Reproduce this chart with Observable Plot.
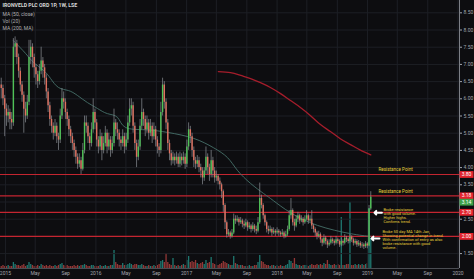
<!DOCTYPE html>
<html><head><meta charset="utf-8">
<script src="https://cdn.jsdelivr.net/npm/d3@7"></script>
<script src="https://cdn.jsdelivr.net/npm/@observablehq/plot@0.6"></script>
<style>
html,body{margin:0;padding:0;background:#0d0d10;overflow:hidden}
#wrap{position:relative;width:474px;height:279px;background:#0d0d10}
#wrap svg{position:absolute;left:0;top:0}
</style></head><body><div id="wrap"></div>
<script>
// ---- data (weekly) ----
const firstWeek = "2014-12-15";
const firstOpen = 6.4;
const closes = [6.3,6.0,5.7,5.5,5.6,5.4,5.3,7.5,7.6,7.2,
 6.8,6.4,6.1,5.7,5.5,5.9,7.2,7.5,7.2,6.9,
 6.7,6.5,6.8,7.1,6.9,6.6,6.2,5.8,5.4,5.2,
 5.0,5.2,4.9,4.8,5.5,6.0,5.9,5.6,5.4,5.1,
 4.9,4.7,4.5,4.3,4.1,4.2,3.95,4.5,5.3,5.2,
 4.9,4.7,5.1,5.6,5.3,4.8,4.6,4.9,4.5,4.7,
 5.0,4.6,4.8,4.5,4.7,5.3,5.1,5.0,4.8,4.7,
 4.9,4.6,4.8,5.3,5.7,5.8,5.2,4.7,4.3,4.6,
 5.2,5.6,5.4,5.1,5.3,5.0,5.2,4.9,5.1,4.8,
 4.6,4.5,5.6,6.4,5.9,5.3,4.7,4.4,4.2,4.3,
 4.2,4.3,4.1,4.3,4.2,4.3,4.1,4.6,5.1,4.9,
 4.5,4.2,4.1,4.2,4.0,3.9,3.7,3.9,4.3,4.0,
 3.8,4.2,3.9,3.7,3.75,3.6,3.5,3.3,2.9,2.4,
 2.05,2.1,2.0,2.1,2.5,2.45,2.5,2.4,2.45,2.35,
 2.3,2.4,2.25,2.3,2.2,2.3,2.2,2.15,2.4,3.1,
 2.9,2.6,2.4,2.2,2.15,2.2,2.1,2.15,2.1,2.15,
 2.1,2.05,2.1,2.0,2.05,2.2,2.6,2.75,2.4,2.3,
 2.5,2.6,2.45,2.5,2.4,2.5,2.6,2.45,2.5,2.3,
 2.2,2.1,2.0,2.05,1.9,1.8,1.95,1.85,1.75,1.8,
 1.9,1.85,1.8,1.9,1.85,1.75,1.85,1.8,1.95,1.9,
 1.85,1.98,1.9,1.8,1.85,1.75,1.8,1.72,1.75,1.7,
 1.78,1.72,2.8,3.14];
const highs = [6.6,6.4,6.1,5.85,5.8,5.7,5.6,7.75,7.8,7.7,
 7.3,6.9,6.5,6.2,5.9,6.1,7.7,7.7,7.6,7.3,
 7.0,6.8,7.0,7.5,7.2,7.0,6.7,6.3,5.9,5.5,
 5.3,5.4,5.3,5.0,5.7,6.3,6.2,6.0,5.7,5.5,
 5.2,5.0,4.8,4.6,4.4,4.4,4.3,4.7,5.5,5.5,
 5.3,5.0,5.3,6.0,5.7,5.4,4.9,5.1,5.0,4.9,
 5.2,5.1,5.0,4.9,4.9,5.7,5.4,5.3,5.1,4.9,
 5.1,5.0,5.0,5.5,6.0,6.0,5.9,5.3,4.8,4.8,
 5.4,6.0,5.7,5.5,5.5,5.4,5.4,5.3,5.3,5.2,
 4.9,4.7,5.9,6.6,6.5,6.0,5.4,4.8,4.5,4.45,
 4.4,4.45,4.4,4.45,4.4,4.45,4.4,4.8,5.3,5.2,
 5.0,4.6,4.3,4.35,4.3,4.1,4.0,4.0,4.6,4.4,
 4.1,4.5,4.3,4.0,3.9,3.8,3.7,3.55,3.35,2.95,
 2.45,2.2,2.15,2.2,2.65,2.6,2.6,2.55,2.55,2.5,
 2.45,2.5,2.45,2.4,2.35,2.4,2.35,2.3,2.55,3.55,
 3.2,2.95,2.65,2.45,2.3,2.3,2.25,2.25,2.2,2.25,
 2.2,2.15,2.2,2.15,2.15,2.3,2.75,3.1,2.8,2.5,
 2.6,2.7,2.65,2.6,2.55,2.6,2.75,2.65,2.6,2.75,
 2.35,2.25,2.15,2.15,2.1,1.95,2.05,2.0,1.9,1.9,
 2.0,1.95,1.9,2.0,1.95,1.9,1.95,1.9,2.05,2.0,
 1.95,2.05,2.02,1.95,1.92,1.9,1.88,1.85,1.82,1.8,
 1.85,1.82,2.9,3.3];
const lows = [6.0,5.8,4.9,5.2,5.3,5.1,5.1,5.2,7.2,7.0,
 6.6,6.2,5.9,5.0,5.3,5.4,5.8,7.0,6.9,6.6,
 6.4,6.3,6.4,6.7,6.6,6.4,6.0,5.6,5.2,5.0,
 4.8,4.9,4.7,4.5,4.7,5.4,5.7,5.4,5.2,4.9,
 4.7,4.5,4.3,4.1,3.95,4.0,3.8,3.9,4.4,5.0,
 4.7,4.5,4.6,5.0,5.1,4.6,4.4,4.5,4.2,4.4,
 4.6,4.4,4.5,4.3,4.4,4.6,4.9,4.8,4.6,4.5,
 4.6,4.4,4.5,4.7,5.2,5.5,5.0,4.5,4.0,4.2,
 4.5,5.1,5.2,4.9,5.0,4.8,4.9,4.7,4.8,4.6,
 4.4,4.3,4.4,5.5,5.7,5.1,4.5,4.2,4.05,4.1,
 4.05,4.1,4.0,4.0,4.05,4.1,3.95,4.0,4.5,4.7,
 4.3,4.0,3.95,4.0,3.85,3.7,3.5,3.6,3.8,3.8,
 3.6,3.7,3.7,3.55,3.6,3.5,3.35,3.1,2.7,2.2,
 1.95,2.0,1.92,1.95,2.05,2.35,2.4,2.3,2.35,2.25,
 2.2,2.25,2.15,2.2,2.1,2.15,2.1,2.05,2.1,2.35,
 2.8,2.5,2.3,2.1,2.05,2.1,2.0,2.05,2.0,2.05,
 2.0,1.98,2.0,1.93,1.95,2.0,2.15,2.5,2.3,2.15,
 2.25,2.4,2.35,2.4,2.3,2.35,2.45,2.35,2.4,2.2,
 2.1,2.0,1.9,1.95,1.8,1.7,1.75,1.75,1.65,1.7,
 1.75,1.78,1.72,1.75,1.78,1.68,1.7,1.72,1.75,1.82,
 1.78,1.8,1.82,1.72,1.75,1.68,1.7,1.65,1.66,1.62,
 1.65,1.64,1.7,2.75];
const volumes = [2,3,2,2,3,2,2,6,4,3,
 3,2,3,4,2,3,6,4,3,2,
 2,3,2,4,3,2,3,2,3,2,
 2,3,2,3,4,5,3,2,3,2,
 2,2,3,2,3,2,3,3,4,3,
 2,2,3,3,2,2,2,3,2,2,
 3,2,2,3,3,18,6,4,3,3,
 5,3,3,4,5,4,3,4,4,3,
 3,4,3,2,2,3,2,2,3,2,
 3,4,7,8,6,15,6,4,3,10,
 3,2,3,2,3,4,3,8,12,6,
 7,6,8,5,4,5,6,4,8,5,
 6,11,5,4,3,3,4,5,7,6,
 5,4,3,3,12,5,4,3,3,3,
 2,2,2,3,2,2,3,3,6,13,
 7,6,4,3,3,2,3,3,2,3,
 2,3,2,2,3,4,8,7,5,10,
 4,3,3,2,3,3,3,2,3,4,
 3,3,4,3,4,3,5,4,8,4,
 3,3,4,3,4,3,51,3,3,4,
 4,66,3,3,4,3,4,3,4,3,
 4,5,60,30];
const ma50Dates = ["2015-02-02","2015-03-23","2015-04-24","2015-06-03","2015-07-02","2015-08-03","2015-09-12","2015-10-18","2015-11-28","2016-01-07","2016-02-16","2016-03-28","2016-04-29","2016-07-19","2016-10-19","2017-01-29","2017-04-19","2017-06-15","2017-07-25","2017-09-16","2017-11-07","2017-12-17","2018-02-24","2018-06-13","2018-10-24","2019-01-14"];
const ma50Values = [7.69,7.32,7.06,6.83,6.59,6.33,6.24,6.10,5.89,5.72,5.57,5.46,5.17,5.10,5.02,4.85,4.58,4.29,3.92,3.54,3.25,3.04,2.69,2.32,2.08,2.0];
const ma200Dates = ["2017-05-09","2017-06-27","2017-08-07","2017-09-16","2017-10-26","2017-12-05","2018-01-15","2018-02-24","2018-04-05","2018-05-16","2018-06-25","2018-08-04","2018-09-13","2018-10-24","2018-12-03","2019-01-14"];
const ma200Values = [6.79,6.76,6.68,6.59,6.47,6.33,6.15,5.95,5.75,5.51,5.25,5.05,4.84,4.67,4.51,4.37];
const resistanceLevels = [3.80, 3.18, 2.70, 2.00];
const lastPrice = 3.14;
const priceTicks = [1.5,2.0,2.5,3.0,3.5,4.0,4.5,5.0,5.5,6.0,6.5,7.0,7.5,8.0,8.5];
const hiddenTickLabels = [2.0, 3.0]; // covered by the price tags in the reference
const titleText = "IRONVELD PLC ORD 1P, 1W, LSE";
const legendLines = ["MA (50, close)", "Vol (20)", "MA (200, MA)"];
const resistanceNotes = [
  {date: "2019-02-14", price: 3.80, text: "Resistance Point"},
  {date: "2019-02-14", price: 3.18, text: "Resistance Point"}];
const notes = [
  {date: "2019-03-06", price: 2.61, text: "Broke resistance\nwith good volume.\nHigher highs.\nConfirms trend."},
  {date: "2019-03-02", price: 1.895, text: "Broke 50 day MA 14th Jan,\nShowing potential change in trend.\nWith confirmation of entry as also\nbroke resistance with good\nvolume."}];
const arrowsData = [
  {from: "2019-02-28", to: "2019-01-29", price: 2.69},
  {from: "2019-02-18", to: "2019-01-17", price: 1.94}];

// ---- build ----
const DAY = 864e5;
const t0 = new Date(firstWeek + "T00:00:00Z").getTime();
const candles = closes.map((c, i) => ({
  date: new Date(t0 + i * 7 * DAY),
  open: i ? closes[i - 1] : firstOpen,
  close: c, high: highs[i], low: lows[i], volume: volumes[i]
}));
const D = s => new Date(s + "T00:00:00Z");
const ma50 = ma50Dates.map((d, i) => ({date: D(d), v: ma50Values[i]}));
const ma200 = ma200Dates.map((d, i) => ({date: D(d), v: ma200Values[i]}));
const xcfg = {type: "utc", domain: [D("2014-12-12"), D("2020-01-07")]};
const timeTicks = d3.utcMonth.every(4).range(D("2015-01-01"), D("2020-01-02"));
const timeFmt = d => d.getUTCMonth() === 0 ? d3.utcFormat("%Y")(d) : d3.utcFormat("%b")(d);
const labelTicks = priceTicks.filter(t => !hiddenTickLabels.includes(t));

const UP = "#4fc257", DOWN = "#e0705f", WICK = "#8d9096";
const YEL = "#e6cf3a";
const common = {width: 474, height: 279, marginLeft: 0, marginRight: 15, marginTop: 0, marginBottom: 11};

const vol = Plot.plot({
  ...common,
  style: {background: "transparent"},
  x: {...xcfg, axis: null},
  y: {domain: [0, 100], range: [268, 168], axis: null},
  marks: [
    Plot.ruleX(candles, {x: "date", y1: 0, y2: "volume", strokeWidth: 1.3,
      stroke: d => d.close >= d.open ? "rgba(38,166,154,0.7)" : "rgba(239,83,80,0.6)"})
  ]
});

const tagSymbol = {draw(ctx) { ctx.rect(-7, -3.4, 14, 6.8); }};
const tags = resistanceLevels.map(p => ({price: p}));

const price = Plot.plot({
  ...common,
  style: {background: "transparent", color: "#a3a6ae", fontFamily: "Roboto, sans-serif", fontSize: "5px"},
  x: xcfg,
  y: {domain: [1.067, 8.858]},
  marks: [
    Plot.gridX({ticks: timeTicks, stroke: "#1d1f25", strokeOpacity: 1}),
    Plot.gridY({ticks: priceTicks, stroke: "#1d1f25", strokeOpacity: 1}),
    Plot.ruleY([1.067], {stroke: "#4a4c52"}),
    Plot.ruleX([xcfg.domain[1]], {stroke: "#7c7f86"}),
    Plot.axisX({ticks: timeTicks, tickFormat: timeFmt, tickSize: 0, tickPadding: 3, fontSize: 5}),
    Plot.axisY({anchor: "right", ticks: labelTicks, tickFormat: d3.format(".2f"), tickSize: 2, tickPadding: 2, fontSize: 5}),
    Plot.ruleY(resistanceLevels, {stroke: "#c42530", strokeWidth: 1.2}),
    Plot.line(ma50, {x: "date", y: "v", stroke: "#46706a", strokeWidth: 0.9, curve: "natural"}),
    Plot.line(ma200, {x: "date", y: "v", stroke: "#a51d2b", strokeWidth: 1.3, curve: "natural"}),
    Plot.ruleX(candles, {x: "date", y1: "low", y2: "high", stroke: WICK, strokeWidth: 0.7}),
    Plot.ruleX(candles, {x: "date", y1: "open", y2: "close", strokeWidth: 1.4,
      stroke: d => d.close >= d.open ? UP : DOWN}),
    Plot.text(resistanceNotes, {x: d => D(d.date), y: "price", text: "text", dy: -4.5, textAnchor: "start", fill: YEL, fontSize: 4.6}),
    Plot.text(notes, {x: d => D(d.date), y: "price", text: "text", textAnchor: "start", lineAnchor: "middle", lineHeight: 1, fill: YEL, fontSize: 4}),
    Plot.arrow(arrowsData, {x1: d => D(d.from), x2: d => D(d.to), y1: "price", y2: "price", stroke: "white", strokeWidth: 2, headLength: 5, headAngle: 90}),
    Plot.dot(tags, {y: "price", frameAnchor: "right", dx: 7, symbol: tagSymbol, fill: "#e3232d", stroke: null}),
    Plot.text(tags, {y: "price", text: d => d.price.toFixed(2), frameAnchor: "right", dx: 7, textAnchor: "middle", fill: "white", fontSize: 5}),
    Plot.dot([{price: lastPrice}], {y: "price", frameAnchor: "right", dx: 7, dy: 5, symbol: tagSymbol, fill: "#3e9f4a", stroke: null}),
    Plot.text([{price: lastPrice}], {y: "price", text: d => d.price.toFixed(2), frameAnchor: "right", dx: 7, dy: 5, textAnchor: "middle", fill: "white", fontSize: 5}),
    Plot.text([titleText], {text: d => d, frameAnchor: "top-left", dx: 2, dy: 3, fontWeight: "bold", fill: "#d8d8d8", fontSize: 5.2}),
    Plot.text([legendLines.join("\n")], {text: d => d, frameAnchor: "top-left", dx: 2, dy: 11, lineHeight: 1.4, fill: "#b0b0b0", fontSize: 5})
  ]
});

const wrap = document.getElementById("wrap");
wrap.appendChild(vol);
wrap.appendChild(price);
</script></body></html>
